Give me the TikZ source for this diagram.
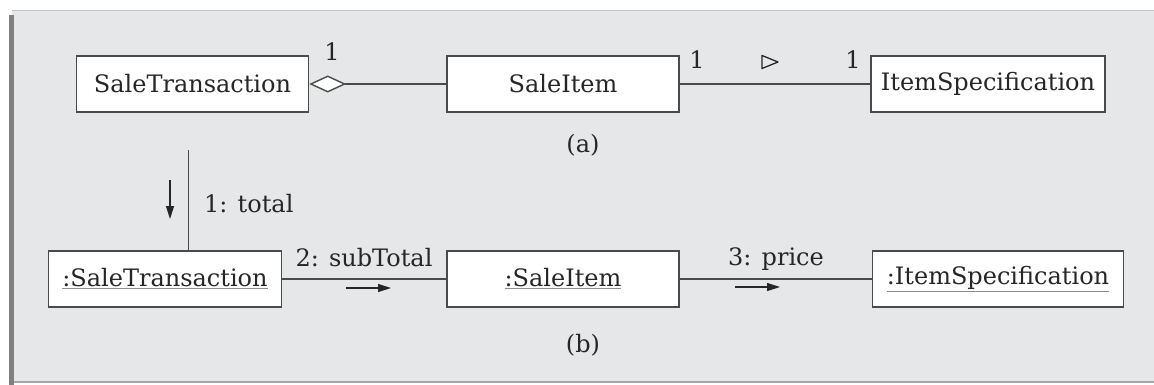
\documentclass[tikz,border=0pt]{standalone}
\usepackage{fontspec}
\setmainfont{DejaVu Serif}
\usetikzlibrary{arrows.meta}
\definecolor{panel}{HTML}{E6E7E9}
\definecolor{edge}{HTML}{4A4A4A}
\definecolor{ink}{HTML}{262626}
\newcommand{\objname}[1]{{\color{black!45}\underline{\color{ink}#1}}}
\begin{document}
\begin{tikzpicture}[x=1pt,y=-1pt,
  cls/.style={draw=edge, line width=1.5pt, fill=white, text=ink, minimum height=56pt, inner sep=0pt, font=\fontsize{24}{27}\selectfont},
  lbl/.style={text=ink, inner sep=0pt, font=\fontsize{24}{27}\selectfont},
  conn/.style={draw=edge, line width=1.4pt},
  msg/.style={draw=ink, line width=1.2pt, -{Triangle[length=13pt,width=8pt]}}]
\useasboundingbox (0,0) rectangle (1154,385);
% panel
\fill[white] (0,0) rectangle (1154,385);
\fill[panel] (12,10) rectangle (1154,382);
\draw[line width=1.2pt, draw=black!22] (12,10.5) -- (1154,10.5);
\draw[line width=1.2pt, draw=black!35] (12,382) -- (1154,382);
\fill[black!50] (9,15) rectangle (13.5,385);
% (a) class diagram
\node[cls, minimum width=232pt] (st) at (192.5,84) {SaleTransaction};
\node[cls, minimum width=232pt] (si) at (563,84) {SaleItem};
\node[cls, minimum width=234pt] (is) at (988,84) {ItemSpecification};
\draw[conn, {Diamond[open, fill=white, length=37pt, width=17pt]}-] (st.east) -- (si.west);
\draw[conn] (si.east) -- (is.west);
\node[lbl] (m1) at (332,52) {1};
\node[lbl] (m2) at (697,60) {1};
\node[lbl] (m3) at (853,60) {1};
\coordinate (dir) at (770,62);
\draw[draw=ink, line width=1.3pt, line join=round] ([shift={(-8,-6.5)}]dir) -- ([shift={(8,0)}]dir) -- ([shift={(-8,6.5)}]dir) -- cycle;
\node[lbl] (capa) at (583,145) {(a)};
% (b) collaboration diagram
\node[cls, minimum width=233pt] (ost) at (165,279) {\objname{:SaleTransaction}};
\node[cls, minimum width=232pt] (osi) at (563,279) {\objname{:SaleItem}};
\node[cls, minimum width=251pt] (ois) at (998,279) {\objname{:ItemSpecification}};
\coordinate (lnk) at (188.4,150);
\draw[conn] (lnk) -- (lnk |- ost.north);
\draw[conn] (ost.east) -- (osi.west);
\draw[conn] (osi.east) -- (ois.west);
\coordinate (a1s) at (170,180);
\coordinate (a1e) at (170,219);
\draw[msg] (a1s) -- (a1e);
\node[lbl, anchor=west] (t1) at (204,204) {1: total};
\coordinate (a2s) at (346,288);
\coordinate (a2e) at (391,288);
\draw[msg] (a2s) -- (a2e);
\node[lbl] (t2) at (364,258) {2: subTotal};
\coordinate (a3s) at (735,287);
\coordinate (a3e) at (780,287);
\draw[msg] (a3s) -- (a3e);
\node[lbl] (t3) at (776,259) {3: price};
\node[lbl] (capb) at (583,345) {(b)};
\end{tikzpicture}
\end{document}
